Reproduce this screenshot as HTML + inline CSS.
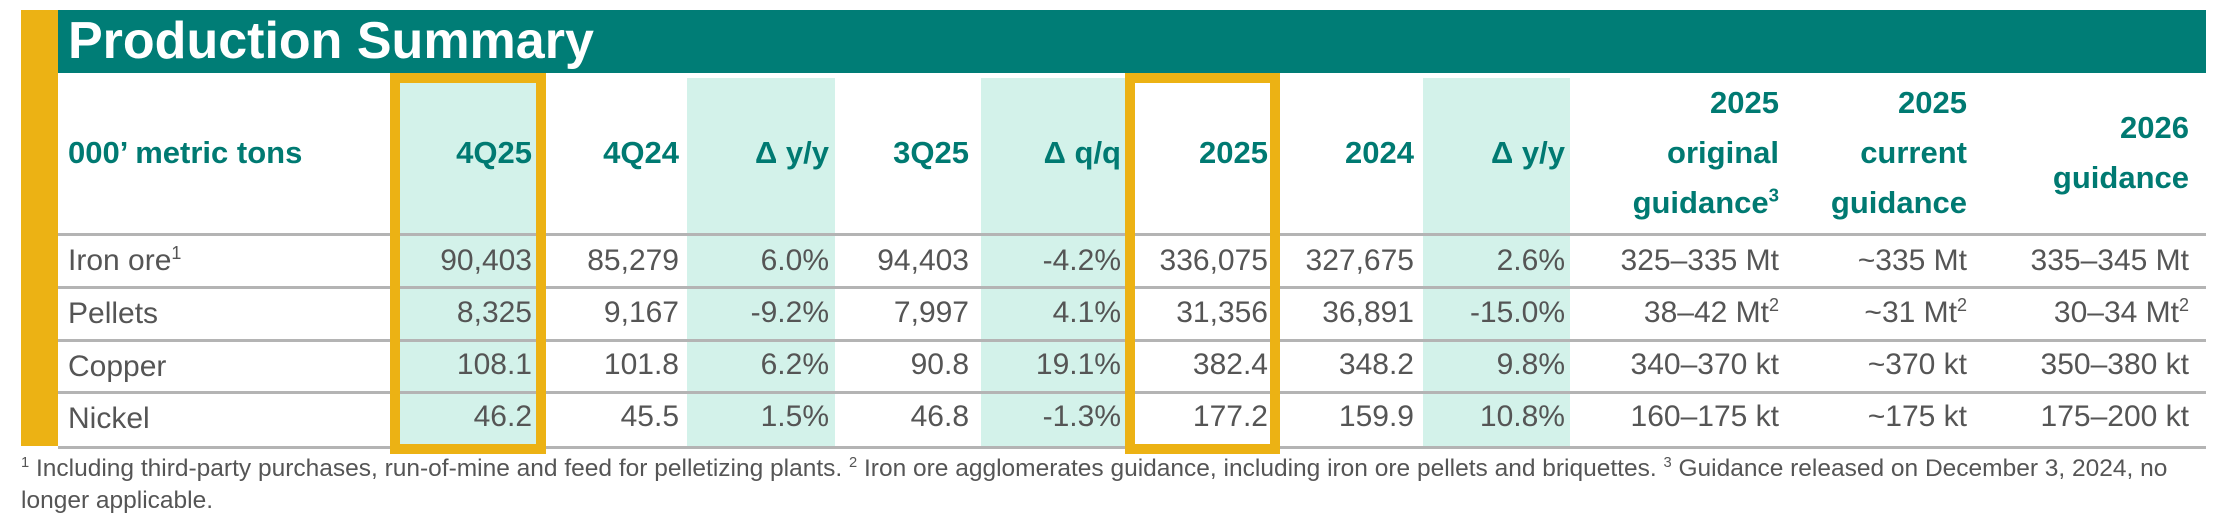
<!DOCTYPE html>
<html><head><meta charset="utf-8"><style>
body{margin:0;width:2218px;height:527px;background:#fff;position:relative;overflow:hidden;font-family:"Liberation Sans",sans-serif}
div{position:absolute}
.t{color:#007a72;font-weight:bold;font-size:31px;text-align:right;white-space:nowrap;line-height:50px}
.d{color:#555;font-size:30px;text-align:right;white-space:nowrap;line-height:52px}
.l{color:#555;font-size:30px;left:68px;line-height:52px}
.hl{left:58px;width:2148px;height:3px;background:#b4b4b4}
sup{font-size:60%;line-height:0}
</style></head><body>
<div style="left:21px;top:10px;width:37px;height:436px;background:#ecb214"></div>
<div style="left:58px;top:10px;width:2148px;height:63px;background:#007d76"></div>
<div style="left:68px;top:10px;line-height:62px;color:#fff;font-weight:bold;font-size:52px">Production Summary</div>
<div style="left:390px;top:73px;width:156px;height:374px;background:#d3f2ea"></div>
<div style="left:687px;top:78px;width:148px;height:369px;background:#d3f2ea"></div>
<div style="left:981px;top:78px;width:144px;height:369px;background:#d3f2ea"></div>
<div style="left:1423px;top:78px;width:147px;height:369px;background:#d3f2ea"></div>
<div class="hl" style="top:233px"></div>
<div class="hl" style="top:286px"></div>
<div class="hl" style="top:339px"></div>
<div class="hl" style="top:391px"></div>
<div class="hl" style="top:446px"></div>
<div style="left:390px;top:73px;width:136px;height:361px;border:10px solid #ecb214"></div>
<div style="left:1125px;top:73px;width:135px;height:361px;border:10px solid #ecb214"></div>
<div class="t" style="left:68px;top:128px;text-align:left">000’ metric tons</div>
<div class="t" style="right:1686px;top:128px">4Q25</div>
<div class="t" style="right:1539px;top:128px">4Q24</div>
<div class="t" style="right:1389px;top:128px">Δ y/y</div>
<div class="t" style="right:1249px;top:128px">3Q25</div>
<div class="t" style="right:1097px;top:128px">Δ q/q</div>
<div class="t" style="right:950px;top:128px">2025</div>
<div class="t" style="right:804px;top:128px">2024</div>
<div class="t" style="right:653px;top:128px">Δ y/y</div>
<div class="t" style="right:439px;top:78px">2025<br>original<br>guidance<sup>3</sup></div>
<div class="t" style="right:251px;top:78px">2025<br>current<br>guidance</div>
<div class="t" style="right:29px;top:103px">2026<br>guidance</div>
<div class="l" style="top:235px">Iron ore<sup>1</sup></div>
<div class="l" style="top:288px">Pellets</div>
<div class="l" style="top:341px">Copper</div>
<div class="l" style="top:393px">Nickel</div>
<div class="d" style="right:1686px;top:235px">90,403<br>8,325<br>108.1<br>46.2</div>
<div class="d" style="right:1539px;top:235px">85,279<br>9,167<br>101.8<br>45.5</div>
<div class="d" style="right:1389px;top:235px">6.0%<br>-9.2%<br>6.2%<br>1.5%</div>
<div class="d" style="right:1249px;top:235px">94,403<br>7,997<br>90.8<br>46.8</div>
<div class="d" style="right:1097px;top:235px">-4.2%<br>4.1%<br>19.1%<br>-1.3%</div>
<div class="d" style="right:950px;top:235px">336,075<br>31,356<br>382.4<br>177.2</div>
<div class="d" style="right:804px;top:235px">327,675<br>36,891<br>348.2<br>159.9</div>
<div class="d" style="right:653px;top:235px">2.6%<br>-15.0%<br>9.8%<br>10.8%</div>
<div class="d" style="right:439px;top:235px">325–335 Mt<br>38–42 Mt<sup>2</sup><br>340–370 kt<br>160–175 kt</div>
<div class="d" style="right:251px;top:235px">~335 Mt<br>~31 Mt<sup>2</sup><br>~370 kt<br>~175 kt</div>
<div class="d" style="right:29px;top:235px">335–345 Mt<br>30–34 Mt<sup>2</sup><br>350–380 kt<br>175–200 kt</div>
<div style="left:21px;top:453px;color:#555;font-size:24.5px;line-height:32px;white-space:nowrap"><sup>1</sup> Including third-party purchases, run-of-mine and feed for pelletizing plants. <sup>2</sup> Iron ore agglomerates guidance, including iron ore pellets and briquettes. <sup>3</sup> Guidance released on December 3, 2024, no<br>longer applicable.</div>
</body></html>
